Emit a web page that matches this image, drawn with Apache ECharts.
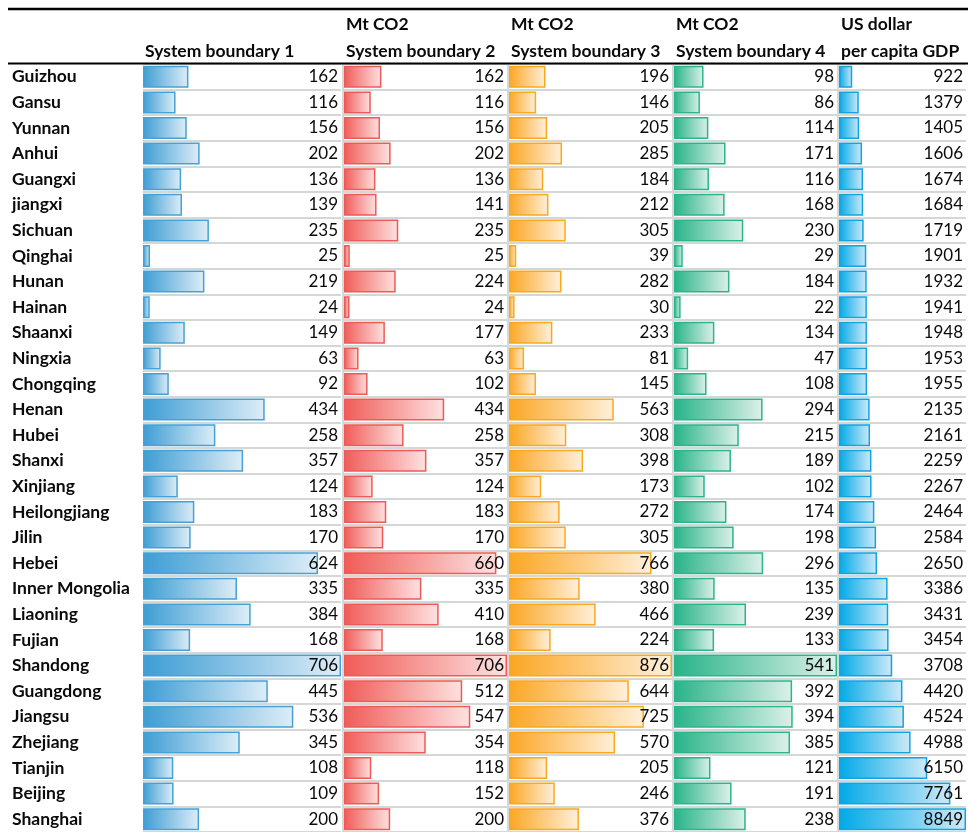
<!DOCTYPE html>
<html>
<head>
<meta charset="utf-8">
<script src="https://cdn.jsdelivr.net/npm/echarts@6/dist/echarts.min.js"></script>
<style>html,body{margin:0;padding:0;background:#fff}#c{width:968px;height:832px}</style>
</head>
<body>
<div id="c"></div>
<script>
const provinces = ['Guizhou','Gansu','Yunnan','Anhui','Guangxi','jiangxi','Sichuan','Qinghai','Hunan','Hainan','Shaanxi','Ningxia','Chongqing','Henan','Hubei','Shanxi','Xinjiang','Heilongjiang','Jilin','Hebei','Inner Mongolia','Liaoning','Fujian','Shandong','Guangdong','Jiangsu','Zhejiang','Tianjin','Beijing','Shanghai'];
const sb1 = [162,116,156,202,136,139,235,25,219,24,149,63,92,434,258,357,124,183,170,624,335,384,168,706,445,536,345,108,109,200];
const sb2 = [162,116,156,202,136,141,235,25,224,24,177,63,102,434,258,357,124,183,170,660,335,410,168,706,512,547,354,118,152,200];
const sb3 = [196,146,205,285,184,212,305,39,282,30,233,81,145,563,308,398,173,272,305,766,380,466,224,876,644,725,570,205,246,376];
const sb4 = [98,86,114,171,116,168,230,29,184,22,134,47,108,294,215,189,102,174,198,296,135,239,133,541,392,394,385,121,191,238];
const gdp = [922,1379,1405,1606,1674,1684,1719,1901,1932,1941,1948,1953,1955,2135,2161,2259,2267,2464,2584,2650,3386,3431,3454,3708,4420,4524,4988,6150,7761,8849];
const headerTop = ['', 'Mt CO2', 'Mt CO2', 'Mt CO2', 'US dollar'];
const headerBottom = ['System boundary 1', 'System boundary 2', 'System boundary 3', 'System boundary 4', 'per capita GDP'];

(function () {
const columns = [sb1, sb2, sb3, sb4, gdp];
const lefts = [143, 344, 509, 674, 839];
const widths = [198, 163, 163, 163, 127];
const styles = [
  {c0:'#3d9dd4', c1:'#deedf7', b:'#45a1d6'},
  {c0:'#f05c58', c1:'#fde2e1', b:'#ef5a57'},
  {c0:'#fba623', c1:'#fff0db', b:'#fba81f'},
  {c0:'#28b388', c1:'#ddf1e9', b:'#2bb58a'},
  {c0:'#00a9e7', c1:'#cfeaf8', b:'#14a3e1'}
];
const gridTop = 64, rowsH = 770;
const font = 'Lato, "Open Sans", sans-serif';

const grid = [], xAxis = [], yAxis = [], series = [];
columns.forEach((vals, i) => {
  const mx = Math.max(...vals);
  grid.push({left: lefts[i], width: widths[i], top: gridTop, height: rowsH});
  xAxis.push({gridIndex: i, type: 'value', min: 0, max: mx, show: false});
  yAxis.push({
    gridIndex: i, type: 'category', data: provinces, inverse: true,
    axisTick: {show: false},
    axisLine: {show: i > 0, onZero: false, lineStyle: {color: '#d5dad9', width: 2}},
    offset: i > 0 ? 1 : 0,
    splitLine: {show: true, interval: 0, lineStyle: {color: '#d3d8d7', width: 2}},
    axisLabel: {show: i === 0, interval: 0, align: 'left', margin: 131,
      fontFamily: font, fontWeight: 'bold', fontSize: 17.5, color: '#0a0a0a'}
  });
  const s = styles[i];
  series.push({
    type: 'bar', xAxisIndex: i, yAxisIndex: i, data: vals, barWidth: 22,
    itemStyle: {
      color: {type: 'linear', x: 0, y: 0, x2: 1, y2: 0,
        colorStops: [{offset: 0, color: s.c0}, {offset: 1, color: s.c1}]},
      borderColor: s.b, borderWidth: 1.5
    },
    silent: true, z: 2
  });
  series.push({
    type: 'bar', xAxisIndex: i, yAxisIndex: i, data: vals.map(() => mx), barWidth: 22, barGap: '-100%',
    itemStyle: {color: 'rgba(0,0,0,0)'},
    label: {show: true, position: 'insideRight', distance: 3,
      formatter: p => String(vals[p.dataIndex]),
      fontFamily: font, fontSize: 17, color: '#0a0a0a'},
    silent: true, z: 3
  });
});

const title = [];
lefts.forEach((l, i) => {
  if (headerTop[i]) title.push({text: headerTop[i], left: l + 2, top: 15,
    textStyle: {fontFamily: font, fontWeight: 'bold', fontSize: 17.5, color: '#0a0a0a'}});
  title.push({text: headerBottom[i], left: l + 2, top: 42,
    textStyle: {fontFamily: font, fontWeight: 'bold', fontSize: 17.5, color: '#0a0a0a'}});
});

const chart = echarts.init(document.getElementById('c'), null, {renderer: 'canvas'});
chart.setOption({
  animation: false,
  backgroundColor: '#fff',
  title: title.map(t => Object.assign({padding: 0}, t)),
  grid, xAxis, yAxis, series,
  graphic: [
    {type: 'line', shape: {x1: 8, y1: 9, x2: 968, y2: 9}, style: {stroke: '#000', lineWidth: 2.5}, z: 10},
    {type: 'line', shape: {x1: 8, y1: 63.5, x2: 968, y2: 63.5}, style: {stroke: '#000', lineWidth: 2}, z: 10}
  ]
});
})();
</script>
</body>
</html>
